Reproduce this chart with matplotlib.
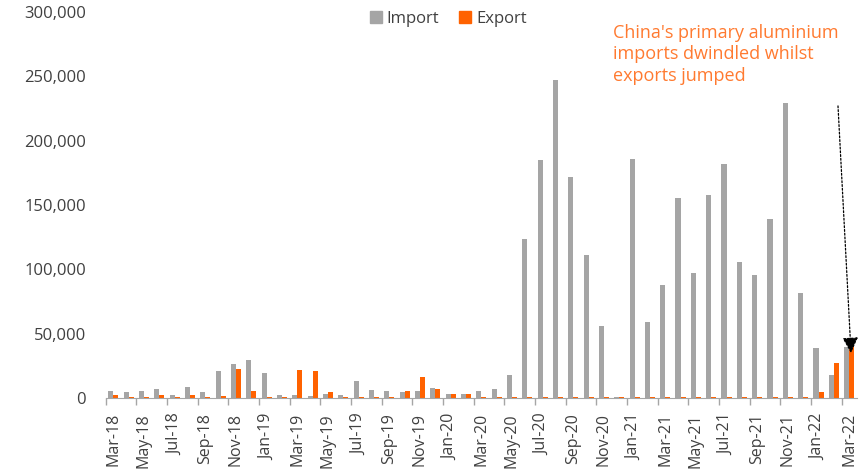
import matplotlib
matplotlib.use("Agg")
import matplotlib.pyplot as plt
import matplotlib.patches as mpatches
from matplotlib.ticker import FuncFormatter
import numpy as np
import pandas as pd

plt.rcParams['font.family'] = ['Open Sans', 'DejaVu Sans']

# monthly primary aluminium trade, tonnes (Mar-18 .. Mar-22)
months = list(pd.date_range("2018-03-01", "2022-03-01", freq="MS").strftime("%b-%y"))

imports = [5000, 4200, 5000, 7300, 2600, 8500, 4200, 20800, 26000, 29400,
           19200, 2600, 2000, 1200, 3400, 2600, 13000, 6500, 5000, 4200,
           5700, 8000, 3400, 3400, 5200, 7300, 18000, 123400, 184600, 247000,
           171700, 111100, 56100, 1000, 186000, 58700, 87500, 155300, 96900, 158100,
           181800, 105500, 95300, 139200, 229300, 81800, 38500, 17700, 39300]

exports = [2000, 1000, 1000, 2500, 500, 2500, 500, 1200, 22800, 5000,
           500, 500, 21600, 20800, 4400, 1000, 500, 500, 500, 5200,
           16400, 7000, 3400, 3400, 500, 500, 500, 600, 600, 600,
           600, 600, 600, 1000, 600, 600, 600, 600, 600, 600,
           600, 600, 600, 600, 600, 600, 4200, 26800, 41000]

GREY = '#A5A5A5'
ORANGE = '#FF6200'

fig = plt.figure(figsize=(8.59, 4.72), dpi=100)
ax = fig.add_axes([0.123, 0.157, 0.8745, 0.8175])

x = np.arange(len(months))
w = 0.33
ax.bar(x - w / 2, imports, width=w, color=GREY)
ax.bar(x + w / 2, exports, width=w, color=ORANGE)

ax.set_xlim(-0.5, len(months) - 0.5)
ax.set_ylim(0, 300000)
ax.set_yticks(np.arange(0, 300001, 50000))
ax.yaxis.set_major_formatter(FuncFormatter(lambda v, p: f"{int(v):,}"))

ax.set_xticks(x[::2])
ax.set_xticklabels(months[::2], rotation=90)
ax.set_xticks(np.arange(-0.5, len(months) - 1, 2), minor=True)
ax.tick_params(axis='x', which='major', length=0, pad=11, labelsize=11.5, labelcolor='#404040')
ax.tick_params(axis='x', which='minor', length=5, color='#A6A6A6', width=1)
ax.tick_params(axis='y', length=0, pad=14, labelsize=12, labelcolor='#404040')

for s in ['top', 'right', 'left']:
    ax.spines[s].set_visible(False)
ax.spines['bottom'].set_color('#A6A6A6')

handles = [mpatches.Patch(color=GREY, label='Import'),
           mpatches.Patch(color=ORANGE, label='Export')]
fig.legend(handles=handles, loc='center', bbox_to_anchor=(0.522, 0.96), ncol=2,
           frameon=False, fontsize=12, handlelength=0.7, handleheight=0.7,
           handletextpad=0.3, columnspacing=1.2, labelcolor='#404040')

ax.text(0.675, 0.97, "China's primary aluminium\nimports dwindled whilst\nexports jumped",
        transform=ax.transAxes, ha='left', va='top', fontsize=13,
        color='#FF7A30', linespacing=1.25)

ax.annotate('', xy=(48.12, 34800), xytext=(47.27, 227000),
            arrowprops=dict(arrowstyle='-|>', color='black', lw=0.9,
                            linestyle=(0, (1.5, 1.5)), mutation_scale=24,
                            shrinkA=0, shrinkB=0))

fig.savefig('out.png', dpi=100)
